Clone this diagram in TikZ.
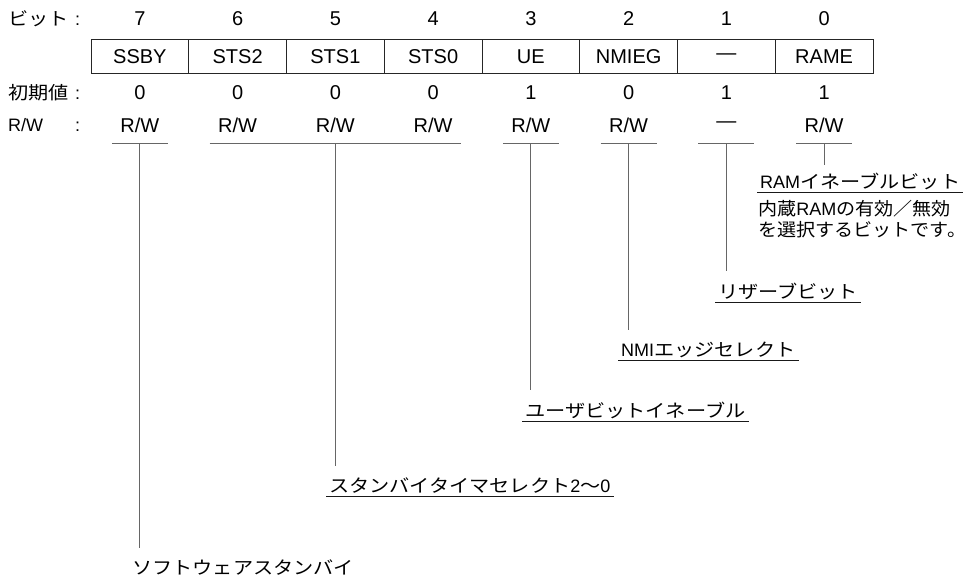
\documentclass[tikz,border=0pt]{standalone}
\usepackage{fontspec}
\setmainfont{Liberation Sans}
\newfontfamily\jp[FakeStretch=1.12]{Noto Sans CJK JP}
\newfontfamily\jpn[FakeStretch=1.06]{Noto Sans CJK JP}
\usetikzlibrary{calc}
\tikzset{
  cell/.style={draw=black!85,line width=1pt,minimum width=97.75pt,minimum height=33pt,inner sep=0pt},
  val/.style={inner sep=0pt},
  head/.style={anchor=west,inner sep=0pt,font=\fontsize{18}{21}\selectfont},
  leader/.style={black!60,line width=1pt},
  lbl/.style={anchor=south west,inner xsep=3pt,inner ysep=2pt,font=\fontsize{18}{21}\selectfont},
  uline/.style={black!90,line width=1pt}
}
\begin{document}
\begin{tikzpicture}[x=1pt,y=-1pt,font=\fontsize{20}{23}\selectfont]
\useasboundingbox (0,0) rectangle (976,578);
% row heads
\node[head] (hbit) at (8,19) {\makebox[67pt][l]{\jp ビット}:};
\node[head] (hinit) at (8,93) {\makebox[67pt][l]{\jp 初期値}:};
\node[head] (hrw) at (8,125) {\makebox[67pt][l]{R/W}:};
% register
\foreach \name/\init/\acc [count=\i from 0] in {SSBY/0/{R/W},STS2/0/{R/W},STS1/0/{R/W},STS0/0/{R/W},UE/1/{R/W},NMIEG/0/{R/W},—/1/—,RAME/1/{R/W}}{
  \pgfmathsetmacro\cx{139.875+97.75*\i}
  \pgfmathtruncatemacro\bit{7-\i}
  \node[val] (bit\bit) at (\cx,19) {\bit};
  \node[cell] (cell\bit) at (\cx,56.5) {\name};
  \node[val] (init\bit) at (\cx,93) {\init};
  \node[val] (rw\bit) at (\cx,125) {\acc};
  \coordinate (l\bit) at ($(rw\bit)+(0,18)$);
}
\coordinate (l64) at ($(l6)!0.5!(l4)$);
% leaders
\foreach \b in {7,3,2,1,0}
  \draw[leader] ($(l\b)+(-28,0)$) -- ($(l\b)+(28,0)$);
\draw[leader] ($(l6)+(-28,0)$) -- ($(l4)+(28,0)$);
% labels
\node[lbl] (rame) at (757,192) {RAM{\jp イネーブルビット}};
\node[anchor=north west,inner sep=0pt,align=left,font=\fontsize{18}{21}\selectfont] (ramedesc) at (758,200.5)
  {{\jpn 内蔵}RAM{\jpn の有効／無効}\\{\jpn を選択するビットです。}};
\node[lbl] (rsv) at (715,302) {\jp リザーブビット};
\node[lbl] (nmi) at (618,360) {NMI{\jp エッジセレクト}};
\node[lbl] (ue) at (522,421) {\jp ユーザビットイネーブル};
\node[lbl] (sts) at (326,496) {{\jp スタンバイタイマセレクト}2{\jp 〜}0};
\node[lbl,anchor=west] (ssby) at (129,568) {\jp ソフトウェアスタンバイ};
\foreach \n in {rame,rsv,nmi,ue,sts}
  \draw[uline] (\n.south west) -- (\n.south east);
% connectors
\draw[leader] (l0) -- ($(l0 |- rame.north)+(0,-6)$);
\draw[leader] (l1) -- ($(l1 |- rsv.north)+(0,-10)$);
\draw[leader] (l2) -- ($(l2 |- nmi.north)+(0,-10)$);
\draw[leader] (l3) -- ($(l3 |- ue.north)+(0,-10)$);
\draw[leader] (l64) -- ($(l64 |- sts.north)+(0,-10)$);
\draw[leader] (l7) -- ($(l7 |- ssby.north)+(0,-10)$);
\end{tikzpicture}
\end{document}
